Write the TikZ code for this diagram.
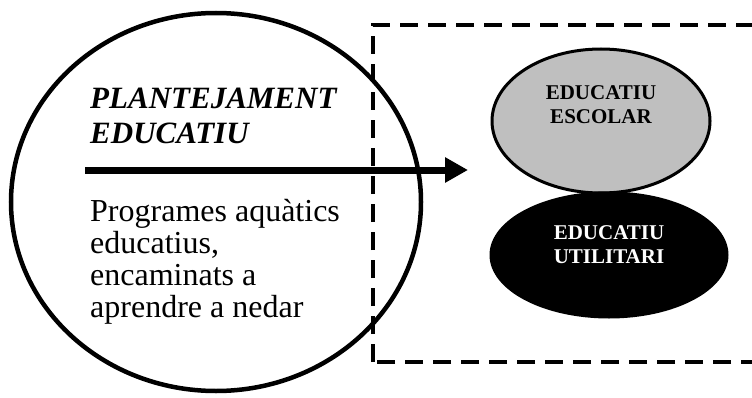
\documentclass[tikz,border=0pt]{standalone}
\usepackage{fontspec}
\setmainfont{Liberation Serif}
\usetikzlibrary{shapes.geometric, arrows.meta}

\begin{document}
\begin{tikzpicture}
		[x=1pt,y=1pt,
		%Styles
		outer ellipse/.style={ellipse,draw,line width=4.5pt,inner sep=0pt,minimum width=410pt,minimum height=378pt},
		field ellipse/.style={ellipse,draw,line width=3pt,inner sep=0pt},
		frame line/.style={line width=3.5pt,dash pattern=on 18pt off 10pt},
		important line/.style={line width=7pt},
		title text/.style={inner sep=0pt,anchor=north west,align=left,font=\fontsize{31}{35}\selectfont\bfseries\itshape},
		body text/.style={inner sep=0pt,anchor=north west,align=left,font=\fontsize{32}{32}\selectfont},
		field text/.style={inner sep=0pt,align=center,font=\fontsize{21}{24}\selectfont\bfseries}
		]
		
		%Colors
		\colorlet{escolarcolor}{black!25}	%upper field
		
		%The graphic
		\useasboundingbox (0,0) rectangle (752,397);
		\clip (0,0) rectangle (752,397);
		
		\draw[frame line] (373,35) rectangle (775,372);
		
		\node[outer ellipse] (plan) at (216,195) {};
		\node[title text] (title) at (90,309) {PLANTEJAMENT\\EDUCATIU};
		\node[body text] (body) at (90,198) {Programes aquàtics\\educatius,\\encaminats a\\aprendre a nedar};
		
		\node[field ellipse,fill=escolarcolor,minimum width=218pt,minimum height=144pt] (escolar) at (601,276) {};
		\node[field text] (escolar text) at (601,292) {EDUCATIU\\ESCOLAR};
		
		\node[field ellipse,fill=black,minimum width=236pt,minimum height=124pt] (utilitari) at (609,142) {};
		\node[field text,text=white] (utilitari text) at (609,152) {EDUCATIU\\UTILITARI};
		
		\coordinate (rule start) at (85,227);
		\coordinate (rule end) at (468,227);
		\draw[important line,-{Triangle[length=23pt,width=24pt]}] (rule start) -- (rule end);
	\end{tikzpicture}
\end{document}
